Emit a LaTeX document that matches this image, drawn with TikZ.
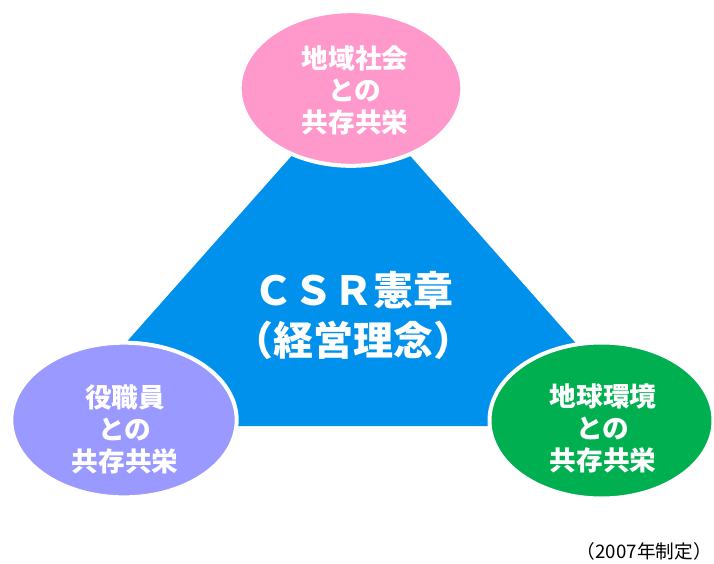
\documentclass[tikz,border=0pt]{standalone}
\usepackage{fontspec}
\newfontfamily\jp{Noto Sans CJK JP}
\usetikzlibrary{shapes.geometric}
\definecolor{blueC}{RGB}{0,145,236}
\definecolor{pinkC}{RGB}{255,153,204}
\definecolor{purpleC}{RGB}{153,153,255}
\definecolor{greenC}{RGB}{0,176,80}
\begin{document}
\begin{tikzpicture}[x=0.75pt,y=-0.75pt,
  bubble/.style={ellipse, draw=white, line width=3pt, inner sep=0pt},
  bubbletext/.style={text=white, align=center, inner sep=0pt,
    font=\jp\bfseries\fontsize{20}{24}\selectfont},
  coretext/.style={text=white, align=center, inner sep=0pt,
    font=\jp\bfseries\fontsize{30}{37.5}\selectfont},
  notetext/.style={text=black, inner sep=0pt, anchor=east,
    font=\jp\fontsize{14}{16}\selectfont}]
\fill[white] (0,0) rectangle (714,564);
\useasboundingbox (0,0) rectangle (714,564);
% central triangle
\coordinate (apex) at (351,89);
\coordinate (bl) at (52,426);
\coordinate (br) at (649,426);
\fill[blueC] (apex) -- (bl) -- (br) -- cycle;
\node[coretext] (core) at (353,315) {ＣＳＲ憲章\\（経営理念）};
% bubbles
\node[bubble, fill=pinkC, minimum width=167pt, minimum height=116pt] (top) at (351,88.5) {};
\node[bubble, fill=purpleC, minimum width=169pt, minimum height=116pt] (left) at (124,420) {};
\node[bubble, fill=greenC, minimum width=168pt, minimum height=117pt] (right) at (601.5,420.5) {};
\node[bubbletext] (toptext) at (355,90) {地域社会\\との\\共存共栄};
\node[bubbletext] (lefttext) at (125,429) {役職員\\との\\共存共栄};
\node[bubbletext] (righttext) at (603,428) {地球環境\\との\\共存共栄};
\node[notetext] (note) at (712,551) {（2007年制定）};
\end{tikzpicture}
\end{document}
